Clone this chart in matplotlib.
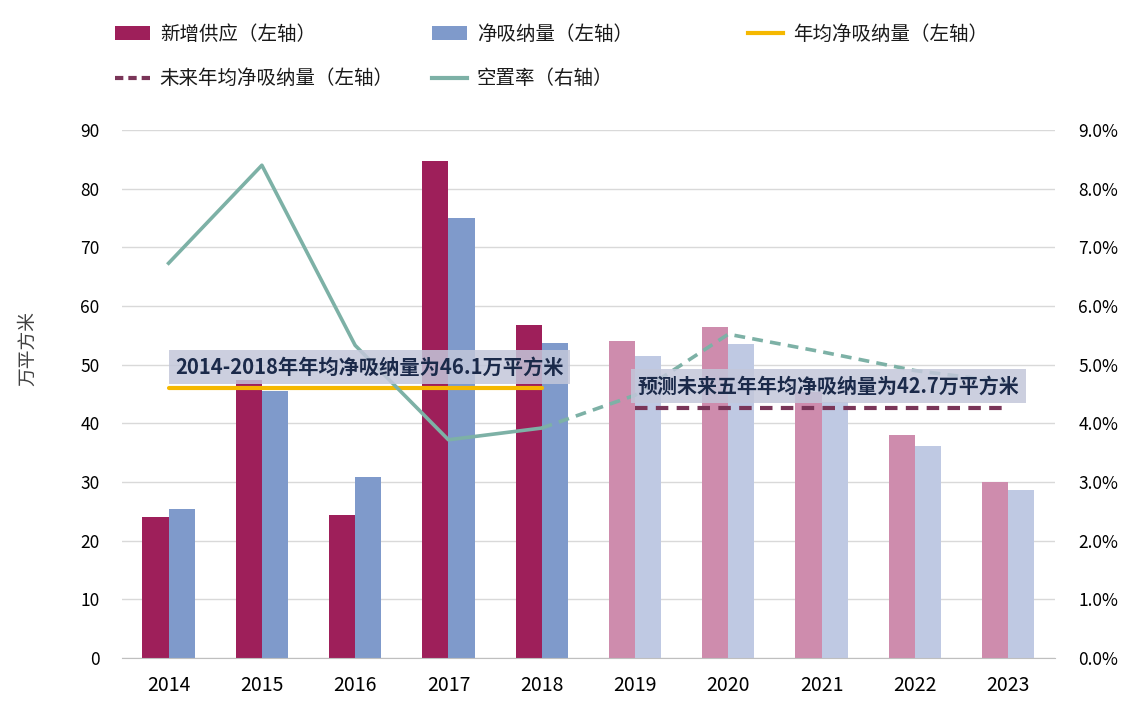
import matplotlib
matplotlib.use("Agg")
import matplotlib.pyplot as plt
from matplotlib.patches import Patch
from matplotlib.lines import Line2D
from matplotlib.ticker import PercentFormatter, MultipleLocator

plt.rcParams['font.family'] = ['Noto Sans CJK SC', 'DejaVu Sans']

years = ['2014', '2015', '2016', '2017', '2018', '2019', '2020', '2021', '2022', '2023']
supply = [24.0, 47.4, 24.4, 84.7, 56.8, 54.0, 56.4, 45.3, 38.0, 30.0]
absorption = [25.4, 45.5, 30.9, 75.0, 53.7, 51.5, 53.6, 43.6, 36.1, 28.6]
vacancy_hist = [0.0673, 0.0840, 0.0533, 0.0372, 0.0392]
vacancy_fcst = [0.0392, 0.0448, 0.0552, 0.0522, 0.0490, 0.0470]
avg_hist = 46.1
avg_fcst = 42.7
n_hist = 5

label_hist = '2014-2018年年均净吸纳量为46.1万平方米'
label_fcst = '预测未来五年年均净吸纳量为42.7万平方米'

c_red = '#9E1F5A'
c_blue = '#7F9ACB'
c_red_l = '#CE8CAD'
c_blue_l = '#BFC9E3'
c_green = '#7DB1A6'
c_yellow = '#F5B800'
c_maroon = '#7A3558'

fig = plt.figure(figsize=(11.44, 7.04), dpi=100)
ax = fig.add_axes([0.1066, 0.0653, 0.8154, 0.75])
ax2 = ax.twinx()

x = list(range(len(years)))
w = 0.28
for i in x:
    hist = i < n_hist
    ax.bar(i - w / 2, supply[i], w, color=c_red if hist else c_red_l, zorder=2)
    ax.bar(i + w / 2, absorption[i], w, color=c_blue if hist else c_blue_l, zorder=2)

ax.set_xlim(-0.5, len(years) - 0.5)
ax.set_ylim(0, 90)
ax.yaxis.set_major_locator(MultipleLocator(10))
ax.grid(axis='y', color='#D9D9D9', lw=1, zorder=0)
ax.set_axisbelow(True)
for s in ['top', 'right', 'left']:
    ax.spines[s].set_visible(False)
ax.spines['bottom'].set_color('#BFBFBF')
ax.set_xticks(x)
ax.set_xticklabels(years)
ax.tick_params(axis='x', length=0, pad=12, labelsize=14, labelcolor='#000000')
ax.tick_params(axis='y', length=0, pad=16, labelsize=12.5, labelcolor='#000000')
ax.set_ylabel('万平方米', fontsize=13.5, color='#404040', va='center')
ax.yaxis.set_label_coords(-0.1007, 0.587)

# average lines
ax.plot([0, n_hist - 1], [avg_hist, avg_hist], color=c_yellow, lw=3, zorder=4, solid_capstyle='round')
ax.plot([n_hist, len(years) - 1], [avg_fcst, avg_fcst], color=c_maroon, lw=3,
        ls=(0, (3, 2)), zorder=4)

# vacancy
ax2.plot(x[:n_hist], vacancy_hist, color=c_green, lw=2.6, zorder=3)
ax2.plot(x[n_hist - 1:], vacancy_fcst, color=c_green, lw=2.6, ls=(0, (3, 2)), zorder=3)
ax2.set_ylim(0, 0.09)
ax2.yaxis.set_major_locator(MultipleLocator(0.01))
ax2.yaxis.set_major_formatter(PercentFormatter(xmax=1, decimals=1))
ax2.tick_params(axis='y', length=0, pad=17, labelsize=12.5, labelcolor='#000000')
for s in ['top', 'right', 'left', 'bottom']:
    ax2.spines[s].set_visible(False)

# annotation boxes
box = dict(boxstyle='square,pad=0.32', facecolor='#C3C7DA', edgecolor='none', alpha=0.85)
ax2.text(0.07, 49.6, label_hist, transform=ax.transData, fontsize=14.6, fontweight='bold',
         color='#1B2A4A', ha='left', va='center', bbox=box, zorder=10)
ax2.text(5.03, 46.4, label_fcst, transform=ax.transData, fontsize=14.4, fontweight='bold',
         color='#1B2A4A', ha='left', va='center', bbox=box, zorder=10)

# legend
fs = 14
h_supply = Patch(facecolor=c_red, edgecolor='none')
h_abs = Patch(facecolor=c_blue, edgecolor='none')
h_avg = Line2D([], [], color=c_yellow, lw=3)
h_fut = Line2D([], [], color=c_maroon, lw=3, ls=(0, (2, 1.2)))
h_vac = Line2D([], [], color=c_green, lw=3)
common = dict(loc='upper left', frameon=False, fontsize=fs, handlelength=1.8,
              handletextpad=0.5, labelspacing=1.2, borderpad=0, borderaxespad=0,
              labelcolor='#1A1A1A')
top = 1 - 24 / 704
fig.legend([h_supply, h_fut], ['新增供应（左轴）', '未来年均净吸纳量（左轴）'],
           bbox_to_anchor=(115 / 1144, top), **common)
fig.legend([h_abs, h_vac], ['净吸纳量（左轴）', '空置率（右轴）'],
           bbox_to_anchor=(432 / 1144, top), **common)
fig.legend([h_avg], ['年均净吸纳量（左轴）'],
           bbox_to_anchor=(748 / 1144, top), **common)

fig.savefig('out.png', dpi=100)
